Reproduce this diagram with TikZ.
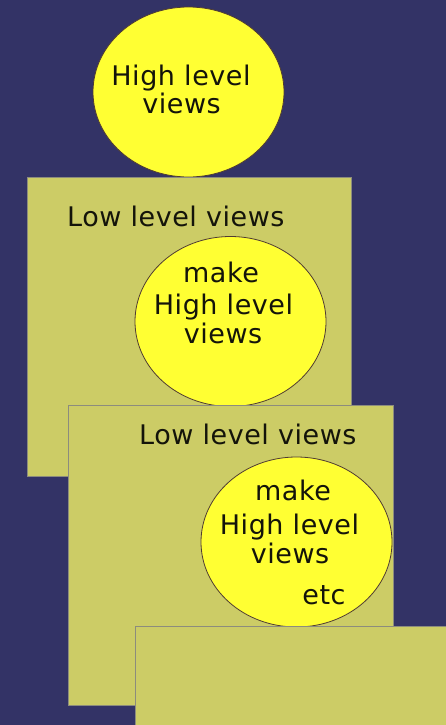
\documentclass[tikz,border=0pt]{standalone}
\usepackage{fontspec}
\setmainfont{DejaVu Sans}[LetterSpace=2]
\usetikzlibrary{shapes.geometric}
\definecolor{navy}{RGB}{51,51,102}
\definecolor{olive}{RGB}{204,204,102}
\definecolor{sun}{RGB}{255,255,51}
\definecolor{ink}{RGB}{20,20,10}
\definecolor{rim}{RGB}{140,140,125}
\definecolor{ringline}{RGB}{80,60,50}
\tikzset{
  panel/.style={fill=olive, draw=rim, line width=1pt},
  bubble/.style={ellipse, fill=sun, draw=ringline, line width=0.8pt,
    minimum width=191pt, minimum height=170pt, inner sep=0pt},
  words/.style={text=ink, font=\fontsize{27}{30}\selectfont, inner sep=0pt},
}
\begin{document}
\begin{tikzpicture}[x=1pt, y=-1pt]
  % page frame and background
  \useasboundingbox (0,0) rectangle (446,725);
  \fill[navy] (0,0) rectangle (446,725);
  \clip (0,0) rectangle (446,725);

  % top level
  \node[bubble] (top) at (188.5,92) {};
  \node[words, anchor=base] (toptxt1) at (181,85) {High level};
  \node[words, anchor=base] (toptxt2) at (181.5,113) {views};

  % first low level panel
  \draw[panel] (27,177) rectangle (351,476);
  \node[words, anchor=base west] (low1) at (67,226) {Low level views};
  \node[bubble] (mid) at (230.5,321.5) {};
  \node[words, anchor=base] (midtxt1) at (221,282) {make};
  \node[words, anchor=base] (midtxt2) at (223.5,314) {High level};
  \node[words, anchor=base] (midtxt3) at (223,343) {views};

  % second low level panel
  \draw[panel] (68,405) rectangle (393,705);
  \node[words, anchor=base west] (low2) at (139,444) {Low level views};
  \node[bubble] (low) at (296.5,542) {};
  \node[words, anchor=base] (lowtxt1) at (293,500) {make};
  \node[words, anchor=base] (lowtxt2) at (289.5,534) {High level};
  \node[words, anchor=base] (lowtxt3) at (290,563) {views};
  \node[words, anchor=base] (lowtxt4) at (324,604) {etc};

  % third panel, running off the page
  \draw[panel] (135,626) rectangle (460,740);
\end{tikzpicture}
\end{document}
